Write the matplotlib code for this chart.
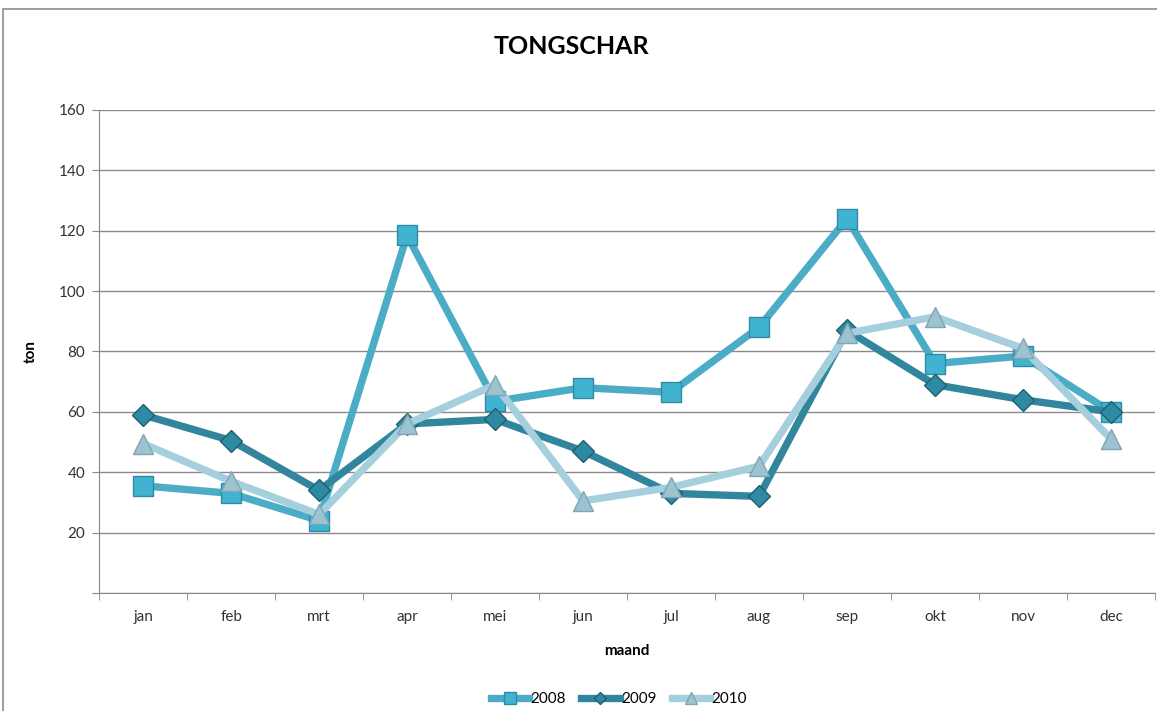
import matplotlib.pyplot as plt
from matplotlib.patches import Rectangle

plt.rcParams['font.family'] = ['Lato', 'DejaVu Sans']

months = ['jan', 'feb', 'mrt', 'apr', 'mei', 'jun', 'jul', 'aug', 'sep', 'okt', 'nov', 'dec']
y2008 = [35.5, 33, 24, 118.5, 63.5, 68, 66.5, 88, 124, 76, 78.5, 60]
y2009 = [59, 50.5, 34, 56, 57.5, 47, 33, 32, 87, 69, 64, 60]
y2010 = [49.5, 37, 26, 56, 69, 30.5, 35, 42, 86, 91.5, 81, 51]

fig = plt.figure(figsize=(11.57, 7.11), dpi=100)
ax = fig.add_axes([0.0856, 0.166, 0.9127, 0.6793])

# chart border (cut off at right / bottom like the screenshot)
fig.patches.append(Rectangle((3 / 1157, -0.05), 1.2, 1 - 9 / 711 + 0.05,
                             transform=fig.transFigure, fill=False,
                             edgecolor='#8c8c8c', linewidth=1.2))

x = list(range(len(months)))
ax.plot(x, y2008, color='#4bacc6', lw=5.3, marker='s', ms=14,
        mfc='#3fb3d0', mec='#2f8ba4', mew=1, label='2008', zorder=3)
ax.plot(x, y2009, color='#31859c', lw=5.3, marker='D', ms=11,
        mfc='#2e8aa3', mec='#1f5f70', mew=1, label='2009', zorder=4)
ax.plot(x, y2010, color='#a5cfdc', lw=5.3, marker='^', ms=15,
        mfc='#9ec3d0', mec='#7fa6b4', mew=1, label='2010', zorder=5)

ax.set_xlim(-0.5, 11.5)
ax.set_ylim(0, 160)
ax.set_yticks(range(0, 161, 20))
ax.set_yticklabels([''] + [str(v) for v in range(20, 161, 20)])
ax.set_xticks(x)
ax.set_xticklabels(months)
ax.set_xticks([i - 0.5 for i in range(13)], minor=True)
ax.tick_params(axis='x', which='major', length=0, pad=12, labelsize=11, colors='#333333')
ax.tick_params(axis='x', which='minor', length=5, color='#888888')
ax.tick_params(axis='y', length=5, color='#888888', labelsize=11, labelcolor='#333333', pad=5)

ax.grid(axis='y', color='#8a8a8a', lw=1)
ax.set_axisbelow(True)
for s in ['top', 'right']:
    ax.spines[s].set_visible(False)
ax.spines['left'].set_color('#888888')
ax.spines['bottom'].set_color('#888888')

ax.set_xlabel('maand', fontsize=11, fontweight='bold', labelpad=15)
ax.set_ylabel('ton', fontsize=11, fontweight='bold', labelpad=15)
fig.text(0.494, 0.935, 'TONGSCHAR', ha='center', va='center', fontsize=18, fontweight='bold')

fig.legend(loc='center', bbox_to_anchor=(0.535, 0.017), ncol=3, frameon=False,
           fontsize=11, markerscale=0.6, handlelength=2.5, handletextpad=0.1,
           columnspacing=1.0)

fig.savefig('out.png', dpi=100, facecolor='white')
